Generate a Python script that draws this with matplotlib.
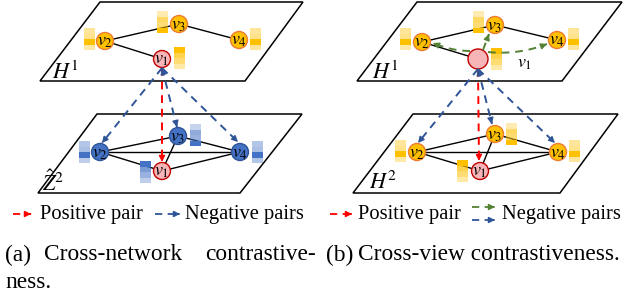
import numpy as np
import matplotlib
matplotlib.use("Agg")
import matplotlib.pyplot as plt
import matplotlib.patches as patches

plt.rcParams['mathtext.fontset'] = 'stix'
plt.rcParams['hatch.color'] = 'white'
plt.rcParams['hatch.linewidth'] = 0.6

# ---- diagram data (pixel coords, y down) ----
plane_a_top = [(100, 2), (303, 2), (245, 81), (40, 81)]
plane_a_bot = [(97, 114), (302, 114), (240, 193), (38, 193)]
plane_b_top = [(417, 2), (622, 2), (562, 81), (357, 81)]
plane_b_bot = [(413, 114), (618, 114), (560, 193), (353, 193)]

nodes_a_top = {1: (162, 59), 2: (105, 41), 3: (179, 24), 4: (239, 40)}
nodes_a_bot = {1: (162, 171), 2: (100, 152), 3: (178, 136), 4: (240, 152)}
nodes_b_top = {1: (478, 59), 2: (422, 42), 3: (495, 25), 4: (557, 40)}
nodes_b_bot = {1: (480, 171), 2: (417, 152), 3: (495, 134), 4: (558, 152)}

edges_top = [(2, 3), (3, 4), (2, 1)]
edges_bot = [(2, 3), (3, 4), (2, 4), (2, 1), (1, 4), (3, 1)]

# feature bars: top-left corner per node
bars_a_top = {2: (84, 28), 3: (157, 11), 4: (250, 28), 1: (174, 47)}
bars_a_bot = {2: (79, 141), 3: (190, 124), 4: (252, 141), 1: (140, 161)}
bars_b_top = {2: (400, 28), 3: (473, 11), 4: (568, 28), 1: (491, 48)}
bars_b_bot = {2: (395, 140), 3: (506, 123), 4: (569, 140), 1: (457, 160)}
# cell intensities, top to bottom
bar_levels = {1: [1.0, 0.7, 0.55, 0.35], 2: [0.4, 0.45, 1.0, 0.35],
              3: [0.3, 0.6, 0.55, 1.0], 4: [0.4, 0.45, 1.0, 0.4]}

arrow_a_start = (162, 68)
arrow_a_pos = (162, 162)
arrow_a_neg = [(102, 143), (177, 127), (238, 142)]
arrow_b_start = (478, 69)
arrow_b_pos = (479, 161)
arrow_b_neg = [(418, 143), (492, 124), (555, 143)]
green_arrows = [((470, 51), (433, 43), -0.1), ((483, 50), (489, 34), 0.0),
                ((488, 52), (547, 44), 0.12)]

ORANGE = '#FFC000'
ORANGE_EDGE = '#ED7D31'
BLUE = '#4472C4'
BLUE_EDGE = '#2F5597'
PINK = '#F7B5B8'
PINK_EDGE = '#C00000'
RED = '#FF0000'
NEG_BLUE = '#2F5597'
GREEN = '#548235'

fig = plt.figure(figsize=(6.27, 2.93), dpi=100)
ax = fig.add_axes([0, 0, 1, 1])
ax.set_xlim(0, 627)
ax.set_ylim(293, 0)
ax.axis('off')


def draw_plane(pts):
    poly = patches.Polygon(pts, closed=True, facecolor='white', edgecolor='black', lw=1.1, zorder=1)
    ax.add_patch(poly)


def draw_edges(nodes, edges):
    for a, b in edges:
        ax.plot([nodes[a][0], nodes[b][0]], [nodes[a][1], nodes[b][1]], color='black', lw=1.0, zorder=2)


def draw_node(xy, idx, face, edge, r=8.5, label=True):
    c = patches.Circle(xy, r, facecolor=face, edgecolor=edge, lw=1.0, zorder=4)
    ax.add_patch(c)
    if label:
        ax.text(xy[0], xy[1] + 0.5, r'$v_{%d}$' % idx, fontsize=13, ha='center', va='center', zorder=5)


def draw_bar(xy, levels, color):
    x, y = xy
    h = 22 / len(levels)
    for i, lv in enumerate(levels):
        cell = patches.Rectangle((x, y + i * h), 11, h, facecolor=color, alpha=lv,
                                 edgecolor='none', hatch='....', zorder=3)
        ax.add_patch(cell)


def dashed_arrow(p0, p1, color, both=False, rad=0.0, lw=1.4):
    p0 = np.array(p0, float)
    p1 = np.array(p1, float)
    d = p1 - p0
    normal = np.array([-d[1], d[0]])
    ctrl = (p0 + p1) / 2 + rad * normal
    t = np.linspace(0, 1, 40)[:, None]
    pts = (1 - t) ** 2 * p0 + 2 * (1 - t) * t * ctrl + t ** 2 * p1
    ax.plot(pts[:, 0], pts[:, 1], color=color, lw=lw, dashes=(4, 3), zorder=6)
    heads = [(pts[-1], pts[-3])]
    if both:
        heads.append((pts[0], pts[2]))
    for tip, back in heads:
        ax.annotate('', xy=tip, xytext=back,
                    arrowprops=dict(arrowstyle='-|>', color=color, lw=1.0,
                                    mutation_scale=9, shrinkA=0, shrinkB=0), zorder=7)


for pl in [plane_a_top, plane_a_bot, plane_b_top, plane_b_bot]:
    draw_plane(pl)

draw_edges(nodes_a_top, edges_top)
draw_edges(nodes_a_bot, edges_bot)
draw_edges(nodes_b_top, edges_top)
draw_edges(nodes_b_bot, edges_bot)

for bars, col in [(bars_a_top, ORANGE), (bars_a_bot, BLUE), (bars_b_top, ORANGE), (bars_b_bot, ORANGE)]:
    for k, xy in bars.items():
        draw_bar(xy, bar_levels[k], col)

for k, xy in nodes_a_top.items():
    draw_node(xy, k, PINK if k == 1 else ORANGE, PINK_EDGE if k == 1 else ORANGE_EDGE)
for k, xy in nodes_a_bot.items():
    draw_node(xy, k, PINK if k == 1 else BLUE, PINK_EDGE if k == 1 else BLUE_EDGE)
for k, xy in nodes_b_top.items():
    if k == 1:
        draw_node(xy, k, PINK, PINK_EDGE, r=10, label=False)
    else:
        draw_node(xy, k, ORANGE, ORANGE_EDGE)
for k, xy in nodes_b_bot.items():
    draw_node(xy, k, PINK if k == 1 else ORANGE, PINK_EDGE if k == 1 else ORANGE_EDGE)
ax.text(525, 63, r'$v_1$', fontsize=13, ha='center', va='center', zorder=5)

# plane labels
ax.text(65, 72, r'$H^1$', fontsize=16, ha='center', va='center', zorder=5)
ax.text(53, 182, r'$\hat{Z}^2$', fontsize=16, ha='center', va='center', zorder=5)
ax.text(385, 72, r'$H^1$', fontsize=16, ha='center', va='center', zorder=5)
ax.text(383, 182, r'$H^2$', fontsize=16, ha='center', va='center', zorder=5)

# contrast arrows (one shared back-head at v1 for the negative pairs)
dashed_arrow(arrow_a_start, arrow_a_pos, RED)
for i, end in enumerate(arrow_a_neg):
    dashed_arrow(arrow_a_start, end, NEG_BLUE, both=(i == 1))
dashed_arrow(arrow_b_start, arrow_b_pos, RED)
for i, end in enumerate(arrow_b_neg):
    dashed_arrow(arrow_b_start, end, NEG_BLUE, both=(i == 1))
for s, e, rad in green_arrows:
    dashed_arrow(s, e, GREEN, rad=rad)

# legends
serif = 'Liberation Serif'
dashed_arrow((13, 214), (31, 214), RED, lw=1.3)
ax.text(40, 214, 'Positive pair', fontsize=14.8, family=serif, va='center')
dashed_arrow((155, 214), (180, 214), NEG_BLUE, lw=1.3)
ax.text(185, 214, 'Negative pairs', fontsize=14.8, family=serif, va='center')
dashed_arrow((330, 214), (352, 214), RED, lw=1.3)
ax.text(358, 214, 'Positive pair', fontsize=14.8, family=serif, va='center')
dashed_arrow((472, 207), (495, 207), GREEN, lw=1.3)
dashed_arrow((472, 220), (495, 220), NEG_BLUE, lw=1.3)
ax.text(502, 214, 'Negative pairs', fontsize=14.8, family=serif, va='center')

# captions
cap = 16.8
ax.text(5, 255, '(a)', fontsize=cap, family=serif, va='center')
ax.text(44, 255, 'Cross-network', fontsize=cap, family=serif, va='center')
ax.text(316, 255, 'contrastive-', fontsize=cap, family=serif, va='center', ha='right')
ax.text(5, 282, 'ness.', fontsize=cap, family=serif, va='center')
ax.text(326, 255, '(b)', fontsize=cap, family=serif, va='center')
ax.text(620, 255, 'Cross-view contrastiveness.', fontsize=cap, family=serif, va='center', ha='right')

fig.savefig('out.png', dpi=100)
